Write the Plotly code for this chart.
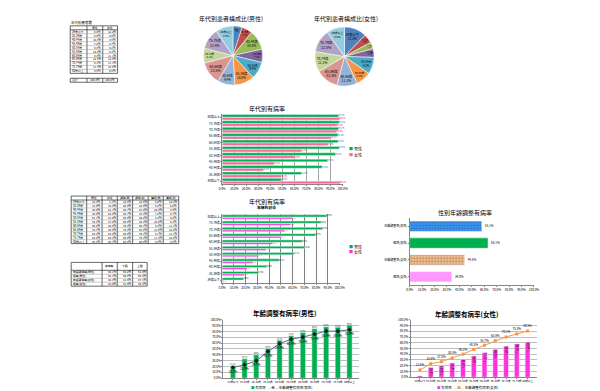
import plotly.graph_objects as go

W, H = 600, 391
FONT = "Noto Sans CJK JP"

# ---------------- data ----------------
ages = ["34歳以下", "35-39歳", "40-44歳", "45-49歳", "50-54歳", "55-59歳",
        "60-64歳", "65-69歳", "70-74歳", "75-79歳", "80歳以上"]

pie_male_pct = [5.0, 5.8, 10.8, 7.2, 9.4, 10.8, 9.4, 12.5, 8.1, 11.4, 9.6]
pie_female_pct = [12.2, 5.0, 3.6, 4.7, 9.2, 8.3, 11.1, 12.5, 11.1, 12.5, 9.8]
pie_colors = ["#4F81BD", "#C0504D", "#9BBB59", "#8064A2", "#4BACC6", "#F79646",
              "#95B3D7", "#D99694", "#C3D69B", "#B3A2C7", "#93CDDD"]

rate1_male = [49.2, 65.9, 83.0, 87.6, 94.2, 97.3, 96.2, 96.2, 96.7, 97.3, 96.7]
rate1_female = [98.1, 49.2, 34.3, 43.1, 59.9, 65.9, 87.9, 90.4, 95.3, 95.6, 97.5]

rate2_male = [18.3, 31.0, 38.0, 48.5, 61.1, 70.4, 68.2, 79.7, 85.4, 84.2, 89.3]
rate2_female = [1.1, 18.9, 21.1, 25.9, 31.0, 37.2, 42.8, 49.9, 53.2, 58.3, 59.7]

combo_male_bar = [21.1, 33.1, 40.0, 50.9, 65.1, 72.6, 78.3, 84.6, 88.0, 87.4, 90.9]
combo_male_line = [18.3, 22.9, 29.7, 45.7, 58.9, 66.9, 70.3, 75.4, 80.6, 80.6, 82.9]
combo_female_bar = [2.3, 16.7, 19.5, 24.7, 31.0, 36.8, 42.5, 48.3, 54.0, 58.0, 60.9]
combo_female_line = [12.6, 23.6, 27.0, 33.3, 40.2, 48.3, 55.7, 63.8, 70.1, 75.3, 80.5]

sex_cats = ["粗率(女性)", "年齢調整率(女性)", "粗率(男性)", "年齢調整率(男性)"]
sex_vals = [34.0, 44.3, 63.1, 58.1]
sex_colors = ["#FF99FF", "#FAC090", "#00B050", "#3399FF"]
sex_patterns = ["", ".", "", "."]

tbl1_header = ["", "男性", "女性"]
tbl2_header = ["", "男性", "女性", "調整(男)", "調整(女)", "構成(男)", "構成(女)"]
tbl3_header = ["", "有病率", "下限", "上限"]
tbl3_low = [55.2, 60.8, 41.5, 31.6]
tbl3_high = [61.0, 65.4, 47.1, 36.4]

# ---------------- helpers ----------------
def xd(a, b):
    return [a / W, b / W]

def yd(top, bottom):
    return [1 - bottom / H, 1 - top / H]

def ann(text, x, y, size, xanchor="center", color="#000"):
    return dict(text=text, x=x / W, y=1 - y / H, xref="paper", yref="paper",
                showarrow=False, xanchor=xanchor, yanchor="middle", borderpad=0,
                font=dict(family=FONT, size=size, color=color))

def fmt(v):
    return [f"{x:.1f}%" for x in v]

shapes = []
annotations = []

def seg(x0, y0, x1, y1, color="#000", width=0.5):
    shapes.append(dict(type="line", xref="paper", yref="paper",
                       x0=x0 / W, x1=x1 / W, y0=1 - y0 / H, y1=1 - y1 / H,
                       line=dict(color=color, width=width)))

def table(x_edges, y_edges, rows, size=2.8):
    for x in x_edges:
        seg(x, y_edges[0], x, y_edges[-1], "#000", 0.6)
    for i, y in enumerate(y_edges):
        edge = i in (0, 1, len(y_edges) - 1)
        seg(x_edges[0], y, x_edges[-1], y, "#000" if edge else "#7F7F7F", 0.6 if edge else 0.4)
    for r, row in enumerate(rows):
        yc = (y_edges[r] + y_edges[r + 1]) / 2
        for c, txt in enumerate(row):
            if not txt:
                continue
            if r == 0 and c > 0:
                annotations.append(ann(txt, (x_edges[c] + x_edges[c + 1]) / 2, yc, size))
            elif c == 0:
                annotations.append(ann(txt, x_edges[c] + 0.6, yc, size, xanchor="left"))
            else:
                annotations.append(ann(txt, x_edges[c + 1] - 0.6, yc, size, xanchor="right"))

fig = go.Figure()

# ---------------- pies ----------------
for vals, dom in [(pie_male_pct, (195, 255, 16, 76)), (pie_female_pct, (308, 368, 17, 77))]:
    fig.add_trace(go.Pie(
        labels=ages, values=vals, sort=False, direction="clockwise", rotation=0,
        marker=dict(colors=pie_colors, line=dict(color="white", width=0.5)),
        texttemplate="%{label}<br>%{value:.1f}%", textposition="inside",
        insidetextorientation="horizontal",
        insidetextfont=dict(family=FONT, size=3.5, color="#000"),
        domain=dict(x=xd(dom[0], dom[1]), y=yd(dom[2], dom[3])),
        showlegend=False, hoverinfo="skip"))

# ---------------- bar chart 1 ----------------
fig.add_trace(go.Bar(y=ages, x=rate1_female, orientation="h", xaxis="x2", yaxis="y2",
                     marker_color="#FF6699", width=0.42, offset=-0.44,
                     text=fmt(rate1_female), textposition="outside", cliponaxis=False,
                     textfont=dict(family=FONT, size=3, color="#FF0000"), showlegend=False))
fig.add_trace(go.Bar(y=ages, x=rate1_male, orientation="h", xaxis="x2", yaxis="y2",
                     marker_color="#00B050", width=0.42, offset=0.0,
                     text=fmt(rate1_male), textposition="outside", cliponaxis=False,
                     textfont=dict(family=FONT, size=3, color="#0070C0"), showlegend=False))

# ---------------- bar chart 2 ----------------
fig.add_trace(go.Bar(y=ages, x=rate2_female, orientation="h", xaxis="x3", yaxis="y3",
                     marker_color="#FF33DD", width=0.28, offset=-0.32,
                     text=fmt(rate2_female), textposition="outside", cliponaxis=False,
                     textfont=dict(family=FONT, size=3, color="#FF0000"), showlegend=False))
fig.add_trace(go.Bar(y=ages, x=rate2_male, orientation="h", xaxis="x3", yaxis="y3",
                     marker_color="#00B050", width=0.36, offset=0.0,
                     text=fmt(rate2_male), textposition="outside", cliponaxis=False,
                     textfont=dict(family=FONT, size=3, color="#000"), showlegend=False))

# ---------------- sex chart ----------------
fig.add_trace(go.Bar(y=sex_cats, x=sex_vals, orientation="h", xaxis="x4", yaxis="y4",
                     width=0.62,
                     marker=dict(color=sex_colors, line=dict(color="white", width=0.5),
                                 pattern=dict(shape=sex_patterns, fillmode="overlay",
                                              fgcolor="white", size=3, solidity=0.3)),
                     text=fmt(sex_vals), textposition="outside", cliponaxis=False,
                     textfont=dict(family=FONT, size=3, color="#000"), showlegend=False))

# ---------------- combo male ----------------
fig.add_trace(go.Bar(x=ages, y=combo_male_bar, xaxis="x5", yaxis="y5",
                     marker_color="#00B050", width=0.45,
                     text=fmt(combo_male_bar), textposition="outside", cliponaxis=False,
                     textfont=dict(family=FONT, size=3, color="#000"), showlegend=False))
fig.add_trace(go.Scatter(x=ages, y=combo_male_line, xaxis="x5", yaxis="y5",
                         mode="lines+markers+text", line=dict(color="#4F6A8F", width=1),
                         marker=dict(symbol="diamond", size=3.5, color="#1A1A1A"),
                         text=fmt(combo_male_line), textposition="bottom center",
                         textfont=dict(family=FONT, size=3, color="#000"),
                         cliponaxis=False, showlegend=False))

# ---------------- combo female ----------------
fig.add_trace(go.Bar(x=ages, y=combo_female_bar, xaxis="x6", yaxis="y6",
                     marker_color="#FF33DD", width=0.45,
                     text=fmt(combo_female_bar), textposition="inside", insidetextanchor="end",
                     cliponaxis=False,
                     textfont=dict(family=FONT, size=3, color="#000"), showlegend=False))
fig.add_trace(go.Scatter(x=ages, y=combo_female_line, xaxis="x6", yaxis="y6",
                         mode="lines+markers+text", line=dict(color="#F79646", width=1),
                         marker=dict(symbol="square", size=3, color="#F79646"),
                         text=fmt(combo_female_line), textposition="top center",
                         textfont=dict(family=FONT, size=3, color="#000"),
                         cliponaxis=False, showlegend=False))

# ---------------- tables (sheet cells) ----------------
rows1 = [tbl1_header] + [[a, m, f] for a, m, f in zip(ages, fmt(pie_male_pct), fmt(pie_female_pct))]
table([60, 77, 93, 108], [16 + 4 * i for i in range(13)], rows1)
table([60, 77, 93, 108], [69, 73], [["合計", "100.0%", "100.0%"]])

rows2 = [tbl2_header] + [list(r) for r in zip(ages, fmt(rate2_male), fmt(rate2_female),
                                             fmt(combo_male_line), fmt(combo_female_line),
                                             fmt(pie_male_pct), fmt(pie_female_pct))]
table([61, 76.7, 92.3, 107.7, 123.3, 139, 154.3, 170], [188 + 4 * i for i in range(13)], rows2)

rows3 = [tbl3_header] + [list(r) for r in zip(sex_cats[::-1], fmt(sex_vals[::-1]),
                                             fmt(tbl3_low), fmt(tbl3_high))]
table([61, 92.3, 107.7, 123.3, 138], [255, 263, 267, 271, 275, 279], rows3)
annotations.append(ann("年代別患者数", 60, 13, 3.5, xanchor="left"))

# ---------------- layout ----------------
tick = dict(family=FONT, size=3, color="#000")

def pct_axis(dom, anchor, grid, gridcolor="#A6A6A6"):
    return dict(domain=dom, anchor=anchor, range=[0, 100], dtick=10, tickformat=".1f",
                ticksuffix="%", tickfont=tick, showgrid=grid, gridcolor=gridcolor,
                gridwidth=0.5, zeroline=False, showline=True, linecolor="#868686",
                linewidth=0.5, ticks="outside", ticklen=1, tickcolor="#868686")

def cat_axis(dom, anchor, size=3):
    return dict(domain=dom, anchor=anchor, type="category",
                tickfont=dict(family=FONT, size=size, color="#000"), tickangle=0,
                showgrid=False, showline=True, linecolor="#868686", linewidth=0.5,
                ticks="outside", ticklen=1, tickcolor="#868686")

annotations += [
    ann("年代別患者構成比(男性)", 223, 9, 6),
    ann("年代別患者構成比(女性)", 340, 9, 6),
    ann("年代別有病率", 259, 100, 6),
    ann("年代別有病率", 259, 193.5, 6),
    ann("<b>年齢別割合</b>", 259, 199.5, 3.8),
    ann("性別年齢調整有病率", 460, 205, 6),
    ann("<b>年齢調整有病率(男性)</b>", 277, 306, 6.5),
    ann("<b>年齢調整有病率(女性)</b>", 462, 307, 6.5),
    ann("<span style='color:#00B050'>■</span> 男性", 342, 140, 4, xanchor="left"),
    ann("<span style='color:#FF6699'>■</span> 女性", 342, 146, 4, xanchor="left"),
    ann("<span style='color:#00B050'>■</span> 男性", 342, 239, 4, xanchor="left"),
    ann("<span style='color:#FF33DD'>■</span> 女性", 342, 245, 4, xanchor="left"),
    ann("<span style='color:#00B050'>■</span> 有病率   "
        "<span style='color:#4F6A8F'>—◆—</span> 年齢調整有病率(男性)", 275, 381, 3.5),
    ann("<span style='color:#FF33DD'>■</span> 有病率   "
        "<span style='color:#F79646'>—■—</span> 年齢調整有病率(女性)", 463, 381, 3.5),
]

layout = dict(
    width=W, height=H, autosize=False, margin=dict(l=0, r=0, t=0, b=0, pad=0),
    paper_bgcolor="white", plot_bgcolor="rgba(0,0,0,0)", barmode="group",
    font=dict(family=FONT, size=4),
    xaxis=dict(domain=[0, 1], range=[0, W], tick0=61, dtick=15.5, showgrid=True,
               gridcolor="#DCDCDC", gridwidth=1, showticklabels=False, zeroline=False,
               ticks="", showline=False, anchor="y"),
    yaxis=dict(domain=[0, 1], range=[H, 0], tick0=0, dtick=4, showgrid=True,
               gridcolor="#E4E4E4", gridwidth=1, showticklabels=False, zeroline=False,
               ticks="", showline=False, anchor="x"),
    xaxis2=pct_axis(xd(214, 336), "y2", True),
    yaxis2=cat_axis(yd(105, 176), "x2"),
    xaxis3=pct_axis(xd(214, 333), "y3", True, "#808080"),
    yaxis3=cat_axis(yd(206, 276), "x3"),
    xaxis4=pct_axis(xd(404, 530), "y4", False),
    yaxis4=cat_axis(yd(210, 278), "x4"),
    xaxis5=cat_axis(xd(215, 353), "y5", 2.6),
    yaxis5=pct_axis(yd(313, 372), "x5", True, "#BFBFBF"),
    xaxis6=cat_axis(xd(405, 533), "y6", 2.6),
    yaxis6=pct_axis(yd(313, 371), "x6", True, "#BFBFBF"),
    shapes=shapes,
    annotations=annotations,
)
fig.update_layout(**layout)
fig.write_html("out.html")
